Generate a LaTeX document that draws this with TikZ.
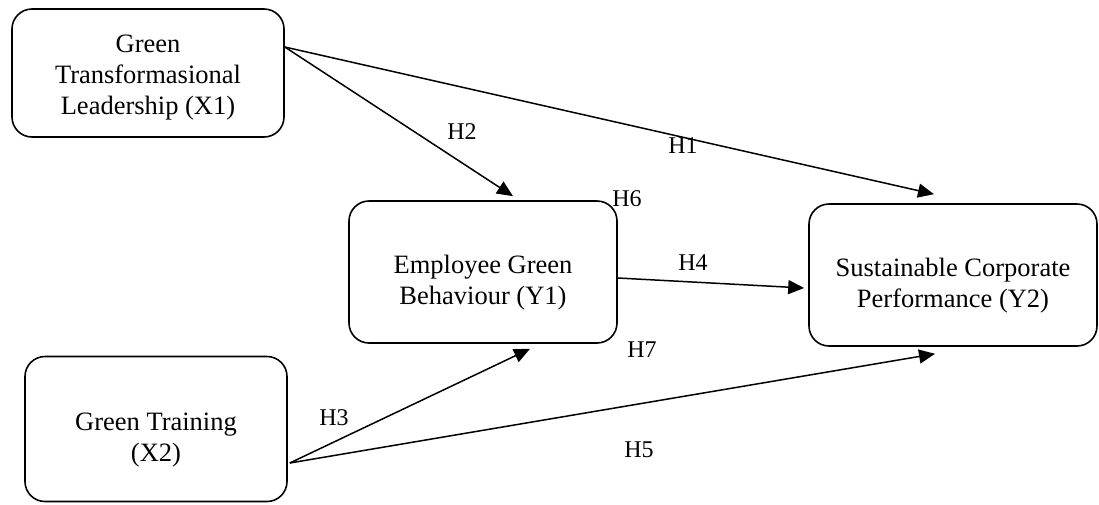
\documentclass[tikz,border=0pt]{standalone}
\usepackage{fontspec}
\setmainfont{Liberation Serif}
\usetikzlibrary{arrows.meta}
\tikzset{
  varbox/.style={draw, line width=1.6pt, rounded corners=20pt, inner sep=0pt},
  boxtext/.style={align=center, inner sep=0pt, font=\fontsize{26.5}{31}\selectfont},
  hyparrow/.style={line width=1.5pt, -{Triangle[length=16pt,width=14pt]}},
  hyplabel/.style={font=\fontsize{24}{28}\selectfont, inner sep=0pt}
}
\begin{document}
\begin{tikzpicture}[x=1pt,y=-1pt]
        \useasboundingbox (0,0) rectangle (1099,504);
        \node[varbox, minimum width=272pt, minimum height=128pt,
              label={[boxtext, yshift=-5pt]center:{Green\\Transformasional\\Leadership (X1)}}] (X1) at (148,73) {};
        \node[varbox, minimum width=262pt, minimum height=145pt,
              label={[boxtext, yshift=-11pt]center:{Green Training\\(X2)}}] (X2) at (156,429) {};
        \node[varbox, minimum width=268pt, minimum height=142pt,
              label={[boxtext, yshift=-11pt]center:{Employee Green\\Behaviour (Y1)}}] (Y1) at (483,272) {};
        \node[varbox, minimum width=288pt, minimum height=142pt,
              label={[boxtext, yshift=-11pt]center:{Sustainable Corporate\\Performance (Y2)}}] (Y2) at (953,275) {};
        \draw[hyparrow] ([yshift=26pt]X1.east) -- ([xshift=-19pt,yshift=9pt]Y2.north);
        \draw[hyparrow] ([yshift=26pt]X1.east) -- ([xshift=30pt,yshift=4pt]Y1.north);
        \draw[hyparrow] ([xshift=2pt,yshift=-34pt]X2.east) -- ([xshift=47pt,yshift=-5pt]Y1.south);
        \draw[hyparrow] ([yshift=-6pt]Y1.east) -- ([xshift=-4pt,yshift=-13pt]Y2.west);
        \draw[hyparrow] ([xshift=2pt,yshift=-34pt]X2.east) -- ([xshift=-18pt,yshift=-7pt]Y2.south);
        \node[hyplabel] (H1) at (683,146) {H1};
        \node[hyplabel] (H2) at (462,132) {H2};
        \node[hyplabel] (H3) at (334,418) {H3};
        \node[hyplabel] (H4) at (693,263) {H4};
        \node[hyplabel] (H5) at (639,450) {H5};
        \node[hyplabel] (H6) at (627,199) {H6};
        \node[hyplabel] (H7) at (642,350) {H7};
    \end{tikzpicture}
\end{document}
